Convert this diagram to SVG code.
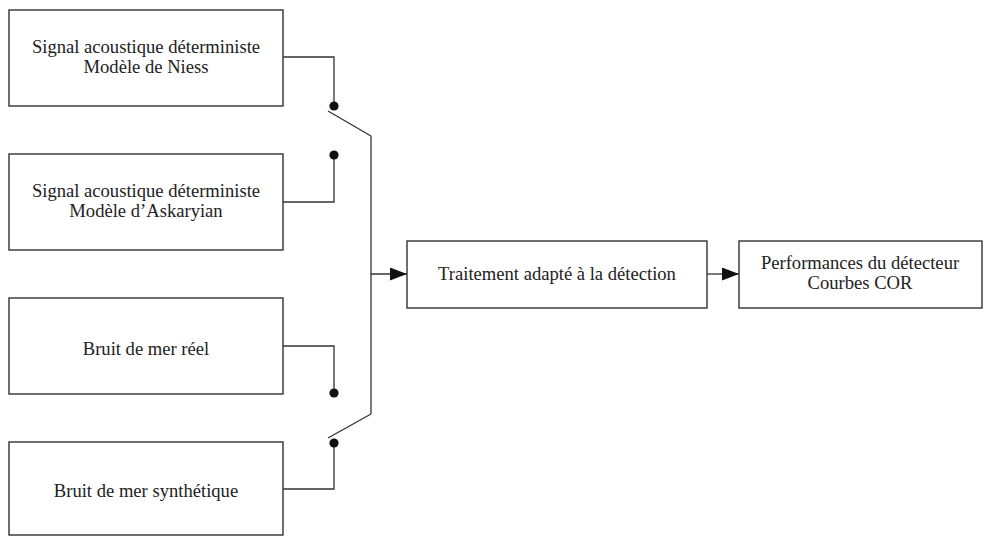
<svg xmlns="http://www.w3.org/2000/svg" width="983" height="536" viewBox="0 0 983 536">
<style>
.box{fill:#fff;stroke:#333;stroke-width:1.4}
.t{font-family:"Liberation Serif","Times New Roman",serif;font-size:18.6px;fill:#222;text-anchor:middle}
.ln{fill:none;stroke:#333;stroke-width:1.3}
.dot{fill:#111}
</style>
<defs>
<marker id="ah" markerWidth="17" markerHeight="13" refX="17" refY="6.5" orient="auto" markerUnits="userSpaceOnUse">
<path d="M0,0 L17,6.5 L0,13 Z" fill="#111"/>
</marker>
</defs>
<rect width="983" height="536" fill="#fff"/>
<g id="n1"><rect class="box" x="9" y="10" width="274" height="96"/>
<text class="t" x="146" y="53">Signal acoustique déterministe</text>
<text class="t" x="146" y="73">Modèle de Niess</text></g>
<g id="n2"><rect class="box" x="9" y="154" width="274" height="96"/>
<text class="t" x="146" y="197">Signal acoustique déterministe</text>
<text class="t" x="146" y="217">Modèle d’Askaryian</text></g>
<g id="n3"><rect class="box" x="9" y="298" width="274" height="96"/>
<text class="t" x="146" y="355">Bruit de mer réel</text></g>
<g id="n4"><rect class="box" x="9" y="442" width="274" height="93"/>
<text class="t" x="146" y="497">Bruit de mer synthétique</text></g>
<g id="n5"><rect class="box" x="407" y="241" width="300" height="67"/>
<text class="t" x="557" y="280">Traitement adapté à la détection</text></g>
<g id="n6"><rect class="box" x="739" y="241" width="243" height="67"/>
<text class="t" x="860" y="269">Performances du détecteur</text>
<text class="t" x="860" y="289">Courbes COR</text></g>
<g id="connectors">
<polyline class="ln" points="283,57 334,57 334,106"/>
<polyline class="ln" points="283,202 334,202 334,155"/>
<polyline class="ln" points="283,346 334,346 334,393"/>
<polyline class="ln" points="283,489 334,489 334,443"/>
<line class="ln" x1="328" y1="111" x2="371" y2="136"/>
<line class="ln" x1="328" y1="438" x2="371" y2="414"/>
<line class="ln" x1="371" y1="136" x2="371" y2="414"/>
<line class="ln" x1="371" y1="274" x2="407" y2="274" marker-end="url(#ah)"/>
<line class="ln" x1="707" y1="274" x2="739" y2="274" marker-end="url(#ah)"/>
<circle class="dot" cx="334" cy="106" r="4.6"/>
<circle class="dot" cx="334" cy="155" r="4.6"/>
<circle class="dot" cx="334" cy="393" r="4.6"/>
<circle class="dot" cx="334" cy="443" r="4.6"/>
</g>
</svg>
